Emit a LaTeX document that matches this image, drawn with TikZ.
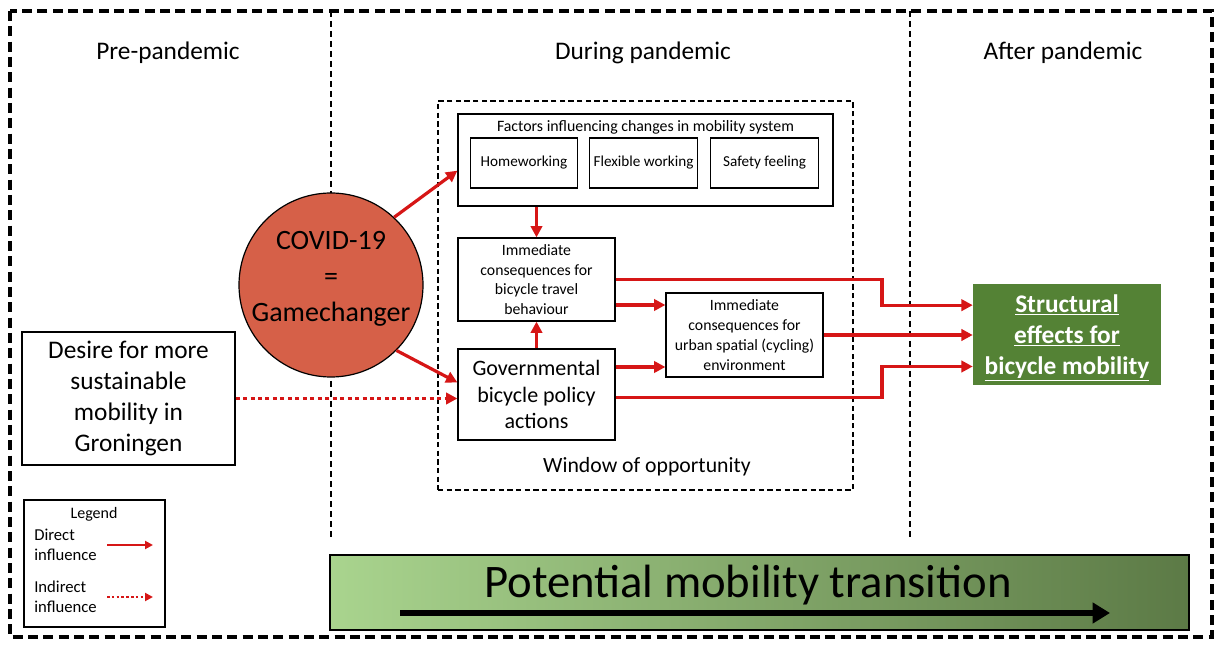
\documentclass[tikz,border=0pt]{standalone}
\usepackage{fontspec}
\setmainfont{Carlito}
\usetikzlibrary{arrows.meta}

\definecolor{arrowred}{RGB}{214,22,22}
\definecolor{covidred}{RGB}{214,96,72}
\definecolor{effectgreen}{RGB}{84,130,53}
\definecolor{bandlight}{RGB}{169,212,142}
\definecolor{banddark}{RGB}{92,122,70}

\tikzset{
    box/.style={draw, line width=0.9pt, align=center, inner sep=2pt},
    smallbox/.style={box, minimum width=117.75pt, font=\fontsize{11.8}{14.8}\selectfont},
    factorbox/.style={box, minimum width=80.5pt, minimum height=37.5pt, font=\fontsize{11.4}{13}\selectfont},
    header/.style={font=\fontsize{19}{23}\selectfont},
    direct/.style={draw=arrowred, line width=2.4pt, -{Triangle[length=8.5pt,width=8.5pt]}},
    indirect/.style={direct, dash pattern=on 3pt off 2.6pt},
    legendarrow/.style={draw=arrowred, line width=1.6pt, -{Triangle[length=6pt,width=6pt]}},
    divider/.style={line width=0.9pt, dash pattern=on 4.5pt off 3pt},
}

\begin{document}
\begin{tikzpicture}[x=0.75pt, y=-0.75pt]
    \useasboundingbox (0,0) rectangle (1217,648);
    \draw[line width=2.4pt, dash pattern=on 7.5pt off 4pt] (10,11) rectangle (1212,637);

    % periods
    \draw[divider] (331,11) -- (331,540);
    \draw[divider] (910,11) -- (910,540);
    \node[header] (prehead) at (168,53) {Pre-pandemic};
    \node[header] (duringhead) at (643,53) {During pandemic};
    \node[header] (afterhead) at (1063,53) {After pandemic};

    % window of opportunity
    \node[draw, line width=0.9pt, dash pattern=on 4pt off 2.5pt, minimum width=311.25pt, minimum height=291.75pt] (window) at (645.5,295.5) {};
    \node[font=\fontsize{16.3}{20}\selectfont] (windowlabel) at (647,467) {Window of opportunity};

    \node[box, minimum width=281.25pt, minimum height=69pt] (factors) at (645.5,160) {};
    \node[font=\fontsize{11.9}{13}\selectfont] (factorstitle) at (645.5,127) {Factors influencing changes in mobility system};
    \node[factorbox] (homework) at (524,163) {Homeworking};
    \node[factorbox] (flexible) at (643.5,163) {Flexible working};
    \node[factorbox] (safety) at (764.5,163) {Safety feeling};

    \node[smallbox, minimum height=62.25pt] (immediate) at (536.5,279.5) {Immediate\\consequences for\\bicycle travel\\behaviour};
    \node[box, minimum width=117.75pt, minimum height=68.25pt, font=\fontsize{16.5}{20}\selectfont] (gov) at (536.5,394.5) {Governmental\\bicycle policy\\actions};
    \node[smallbox, minimum height=63pt] (urban) at (744.5,335) {Immediate\\consequences for\\urban spatial (cycling)\\environment};

    \node[circle, draw, line width=0.9pt, fill=covidred, minimum size=138pt] (covid) at (331,285) {};
    \node[align=center, font=\fontsize{21}{27}\selectfont] (covidtext) at ([yshift=4.5pt]covid.center) {COVID-19\\=\\Gamechanger};
    \node[box, minimum width=159.75pt, minimum height=99.75pt, font=\fontsize{19}{23.2}\selectfont] (desire) at (128.5,398.5) {Desire for more\\sustainable\\mobility in\\Groningen};
    \node[fill=effectgreen, minimum width=141pt, minimum height=75.75pt] (effects) at (1067,334.5) {};
    \node[text=white, align=center, font=\bfseries\fontsize{19}{23.3}\selectfont] (effectstext) at ([yshift=-2.5pt]effects.center) {\underline{Structural}\\\underline{effects for}\\\underline{bicycle mobility}};

    % influences
    \draw[direct] (covid.47) -- ([yshift=-8pt]factors.west);
    \draw[direct] (covid.-45) -- ([yshift=9pt]gov.west);
    \draw[indirect] (desire.east) -- (desire.east -| gov.west);
    \draw[direct] (immediate.north |- factors.south) -- (immediate.north);
    \draw[direct] (gov.north) -- (immediate.south);
    \coordinate (u1) at ([yshift=22.5pt]urban.west);
    \coordinate (u2) at ([yshift=-24pt]urban.west);
    \draw[direct] (immediate.east |- u1) -- (u1);
    \draw[direct] (gov.east |- u2) -- (u2);
    \coordinate (bend) at (882,0);
    \coordinate (e1) at ([yshift=22pt]effects.west);
    \coordinate (e3) at ([yshift=-24pt]effects.west);
    \draw[direct] (immediate.east) -| (bend |- e1) -- (e1);
    \draw[direct] (urban.east) -- (urban.east -| effects.west);
    \draw[direct] ([yshift=-2pt]gov.east) -| (bend |- e3) -- (e3);

    % legend
    \node[box, minimum width=105.75pt, minimum height=95.25pt] (legend) at (94.5,563.5) {};
    \node[font=\fontsize{12}{14}\selectfont] (legendtitle) at (94,514) {Legend};
    \node[anchor=west, align=left, inner sep=0pt, font=\fontsize{12.5}{15}\selectfont] (directtext) at (34,545) {Direct\\influence};
    \node[anchor=west, align=left, inner sep=0pt, font=\fontsize{12.5}{15}\selectfont] (indirecttext) at (34,597) {Indirect\\influence};
    \coordinate (d1) at (107,545);
    \coordinate (d2) at (153,545);
    \coordinate (i1) at (107,597);
    \coordinate (i2) at (153,597);
    \draw[legendarrow] (d1) -- (d2);
    \draw[legendarrow, dash pattern=on 2pt off 1.6pt] (i1) -- (i2);

    % transition band
    \node[draw, line width=1.2pt, left color=bandlight, right color=banddark, minimum width=644.25pt, minimum height=56.25pt] (band) at (759.5,592.5) {};
    \node[font=\fontsize{35}{40}\selectfont] (bandtext) at (748,585) {Potential mobility transition};
    \coordinate (t1) at (400,613);
    \coordinate (t2) at (1110,613);
    \draw[line width=4pt, -{Triangle[length=13pt,width=15pt]}] (t1) -- (t2);
\end{tikzpicture}
\end{document}
